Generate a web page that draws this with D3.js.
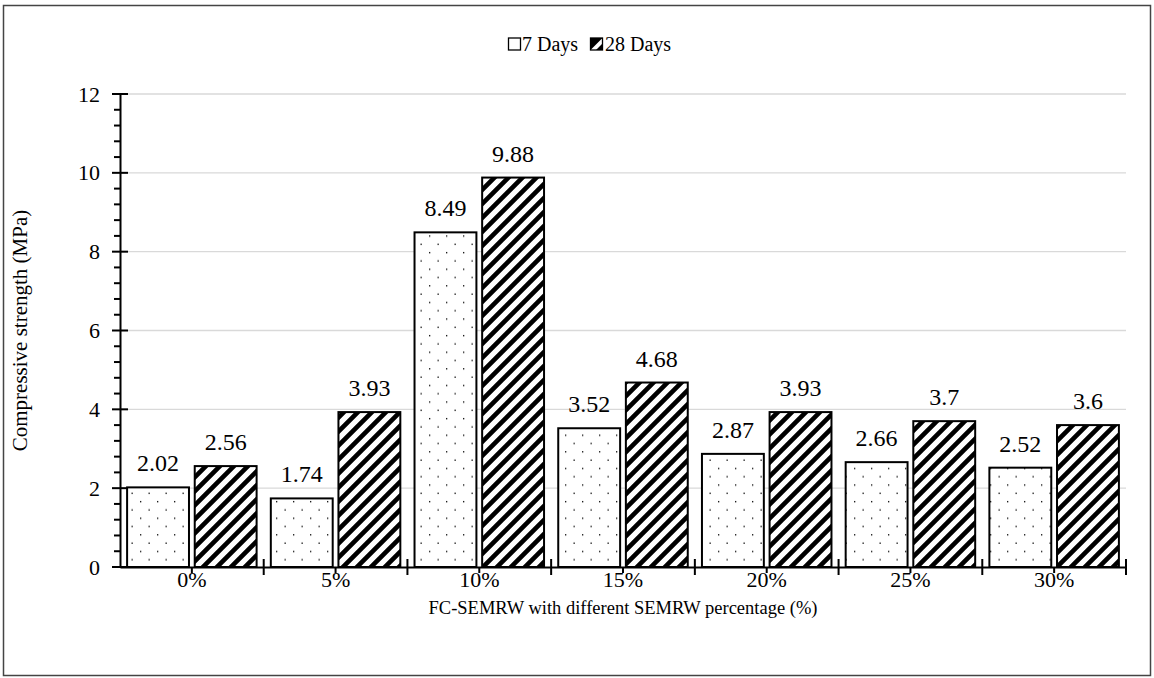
<!DOCTYPE html>
<html>
<head>
<meta charset="utf-8">
<script src="https://cdn.jsdelivr.net/npm/d3@7"></script>
<style>
  body { margin: 0; background: #fff; }
  svg { display: block; }
  svg text { font-family: "Liberation Serif", "Times New Roman", serif; fill: #000; }
</style>
</head>
<body>
<svg id="chart" width="1154" height="678"></svg>
<script>
var categories = ['0%', '5%', '10%', '15%', '20%', '25%', '30%'];
var series = ['7 Days', '28 Days'];
var days7 = [2.02, 1.74, 8.49, 3.52, 2.87, 2.66, 2.52];
var days28 = [2.56, 3.93, 9.88, 4.68, 3.93, 3.7, 3.6];
var labels7 = ['2.02', '1.74', '8.49', '3.52', '2.87', '2.66', '2.52'];
var labels28 = ['2.56', '3.93', '9.88', '4.68', '3.93', '3.7', '3.6'];
var yTicks = [0, 2, 4, 6, 8, 10, 12];

var serif = 'Liberation Serif';
var svg = d3.select('#chart');
var plotLeft = 120, plotRight = 1126, plotTop = 94, plotBottom = 567;

// outer frame
svg.append('rect')
    .attr('x', 3.5).attr('y', 5.5).attr('width', 1147).attr('height', 670)
    .attr('fill', 'none').attr('stroke', '#444').attr('stroke-width', 1.5);

// patterns
var defs = svg.append('defs');
var dots = defs.append('pattern')
    .attr('id', 'dots').attr('patternUnits', 'userSpaceOnUse')
    .attr('width', 17).attr('height', 16.6);
dots.append('rect').attr('width', 17).attr('height', 16.6).attr('fill', '#fff');
dots.append('rect').attr('x', 4).attr('y', 3).attr('width', 1.3).attr('height', 1.3).attr('fill', '#000');
dots.append('rect').attr('x', 12.5).attr('y', 11.3).attr('width', 1.3).attr('height', 1.3).attr('fill', '#000');

var hatch = defs.append('pattern')
    .attr('id', 'hatch').attr('patternUnits', 'userSpaceOnUse')
    .attr('width', 14).attr('height', 14);
hatch.append('rect').attr('width', 14).attr('height', 14).attr('fill', '#fff');
hatch.append('path')
    .attr('d', 'M-2,16 L16,-2 M-9,9 L9,-9 M5,23 L23,5')
    .attr('stroke', '#000').attr('stroke-width', 4.6);

var x = d3.scaleBand().domain(categories).range([plotLeft, plotRight]).paddingInner(0).paddingOuter(0);
var xs = d3.scaleBand().domain(series).range([0, x.bandwidth()]).paddingInner(0.085).paddingOuter(0.105);
var y = d3.scaleLinear().domain([0, 12]).range([plotBottom, plotTop]);

// gridlines
svg.append('g').selectAll('line').data(yTicks.slice(1)).join('line')
    .attr('x1', plotLeft).attr('x2', plotRight)
    .attr('y1', function(d) { return y(d); }).attr('y2', function(d) { return y(d); })
    .attr('stroke', '#d9d9d9').attr('stroke-width', 1.3);

// bars
var data = [];
categories.forEach(function(c, i) {
    data.push({ cat: c, s: series[0], v: days7[i], label: labels7[i] });
    data.push({ cat: c, s: series[1], v: days28[i], label: labels28[i] });
});

var g = svg.append('g');
g.selectAll('rect').data(data).join('rect')
    .attr('x', function(d) { return x(d.cat) + xs(d.s); })
    .attr('y', function(d) { return y(d.v); })
    .attr('width', xs.bandwidth())
    .attr('height', function(d) { return y(0) - y(d.v); })
    .attr('fill', function(d) { return d.s === series[0] ? 'url(#dots)' : 'url(#hatch)'; })
    .attr('stroke', '#000').attr('stroke-width', 2);

g.selectAll('text').data(data).join('text')
    .attr('x', function(d) { return x(d.cat) + xs(d.s) + xs.bandwidth() / 2; })
    .attr('y', function(d) { return y(d.v) - 16; })
    .attr('text-anchor', 'middle')
    .attr('font-family', serif)
    .attr('font-size', 24)
    .text(function(d) { return d.label; });

// y axis
var yAxis = d3.axisLeft(y).tickValues(yTicks).tickSize(0).tickPadding(20);
var ya = svg.append('g').attr('transform', 'translate(' + plotLeft + ',0)').call(yAxis)
    .attr('font-family', serif);
ya.select('.domain').attr('stroke', '#000').attr('stroke-width', 2);
ya.selectAll('text').attr('font-size', 22).attr('font-family', serif).attr('fill', '#000');
var minorY = d3.range(0, 12.01, 0.4);
ya.append('g').selectAll('line').data(minorY).join('line')
    .attr('x1', function(d) { return Math.abs(d / 2 - Math.round(d / 2)) < 1e-6 ? -8 : -6; })
    .attr('x2', function(d) { return Math.abs(d / 2 - Math.round(d / 2)) < 1e-6 ? 8 : 0; })
    .attr('y1', function(d) { return y(d); }).attr('y2', function(d) { return y(d); })
    .attr('stroke', '#000').attr('stroke-width', 2);

// x axis
var xAxis = d3.axisBottom(x).tickSize(0).tickPadding(4);
var xa = svg.append('g').attr('transform', 'translate(0,' + plotBottom + ')').call(xAxis)
    .attr('font-family', serif);
xa.select('.domain').attr('stroke', '#000').attr('stroke-width', 2);
xa.selectAll('text').attr('font-size', 22).attr('font-family', serif).attr('fill', '#000');
// boundary ticks (crossing) and centre ticks (outside)
var bounds = categories.map(function(c) { return x(c); }).concat([plotRight]);
xa.append('g').selectAll('line').data(bounds.slice(1)).join('line')
    .attr('x1', function(d) { return d; }).attr('x2', function(d) { return d; })
    .attr('y1', -8).attr('y2', 8)
    .attr('stroke', '#000').attr('stroke-width', 2);
xa.append('g').selectAll('line').data(categories).join('line')
    .attr('x1', function(d) { return x(d) + x.bandwidth() / 2; })
    .attr('x2', function(d) { return x(d) + x.bandwidth() / 2; })
    .attr('y1', 0).attr('y2', 6)
    .attr('stroke', '#000').attr('stroke-width', 2);

// axis titles
svg.append('text')
    .attr('x', (plotLeft + plotRight) / 2).attr('y', 614)
    .attr('text-anchor', 'middle').attr('font-family', serif).attr('font-size', 18.5)
    .text('FC-SEMRW with different SEMRW percentage (%)');
svg.append('text')
    .attr('transform', 'translate(27,' + (plotTop + plotBottom) / 2 + ') rotate(-90)')
    .attr('text-anchor', 'middle').attr('font-family', serif).attr('font-size', 21)
    .text('Compressive strength (MPa)');

// legend
var lg = svg.append('g').attr('transform', 'translate(508,37)');
lg.append('rect').attr('x', 0.5).attr('y', 1).attr('width', 12).attr('height', 12)
    .attr('fill', '#fff').attr('stroke', '#000').attr('stroke-width', 1.3);
lg.append('text').attr('x', 14).attr('y', 14).attr('font-family', serif).attr('font-size', 20).text(series[0]);
var l2 = lg.append('g').attr('transform', 'translate(82,0)');
l2.append('rect').attr('x', 0.5).attr('y', 1).attr('width', 12).attr('height', 12)
    .attr('fill', '#fff').attr('stroke', '#000').attr('stroke-width', 1.3);
l2.append('path').attr('d', 'M0.5,1 L12.5,1 L0.5,13 Z').attr('fill', '#000');
l2.append('path').attr('d', 'M12.5,6.5 L12.5,13 L6,13 Z').attr('fill', '#000');
l2.append('text').attr('x', 15).attr('y', 14).attr('font-family', serif).attr('font-size', 20).text(series[1]);
</script>
</body>
</html>
